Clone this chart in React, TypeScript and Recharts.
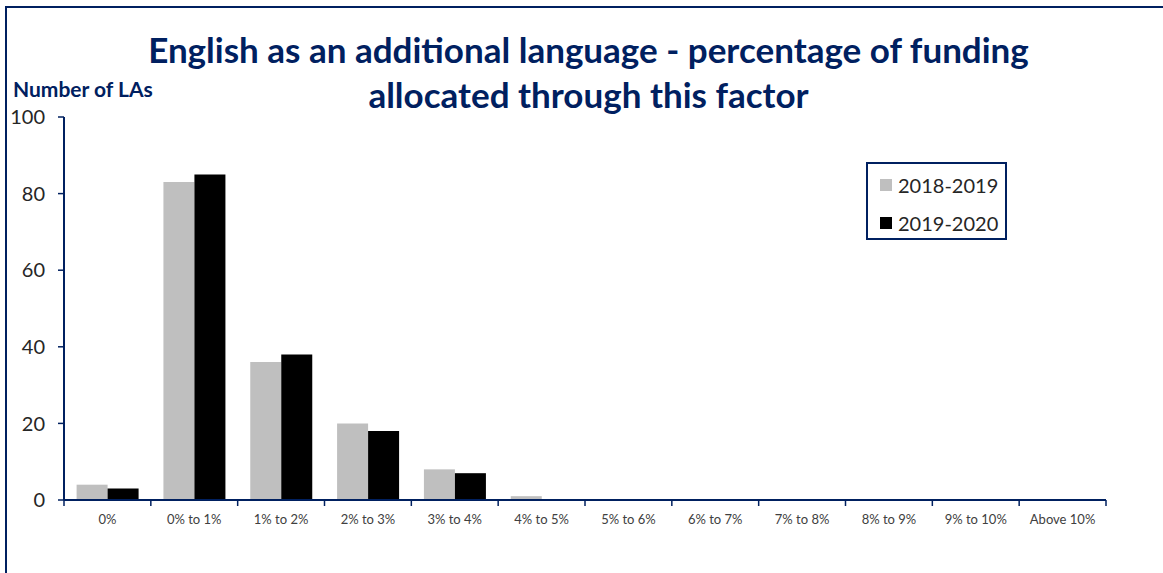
import React from 'react'
import { BarChart, Bar, XAxis, YAxis } from 'recharts'

const categories = [
  '0%', '0% to 1%', '1% to 2%', '2% to 3%', '3% to 4%', '4% to 5%',
  '5% to 6%', '6% to 7%', '7% to 8%', '8% to 9%', '9% to 10%', 'Above 10%',
]
const series2018 = [4, 83, 36, 20, 8, 1, 0, 0, 0, 0, 0, 0]
const series2019 = [3, 85, 38, 18, 7, 0, 0, 0, 0, 0, 0, 0]
const yTicks = [0, 20, 40, 60, 80, 100]

const NAVY = '#002060'
const FONT = 'Lato, "Open Sans", sans-serif'

const data = categories.map((c, i) => ({
  cat: c,
  y2018: series2018[i],
  y2019: series2019[i],
}))

// x-axis tick: label at the band centre, tick marks at the band edges (Excel style)
function CatTick(props: any) {
  const { x, y, payload, index } = props
  const half = payload.offset ?? 0
  const last = index === categories.length - 1
  return (
    <g>
      <line x1={x - half} x2={x - half} y1={y - 10} y2={y - 4} stroke={NAVY} strokeWidth={1.5} />
      {last && <line x1={x + half} x2={x + half} y1={y - 10} y2={y - 4} stroke={NAVY} strokeWidth={1.5} />}
      <text x={x} y={y + 14} textAnchor="middle" fill="#404040" fontSize={13} fontFamily={FONT}>
        {payload.value}
      </text>
    </g>
  )
}

export default function App() {
  return (
    <div style={{ position: 'absolute', left: 0, top: 0, width: 1163, height: 573, overflow: 'hidden', background: '#fff', fontFamily: FONT }}>
      {/* outer frame, runs off the right/bottom */}
      <div style={{ position: 'absolute', left: 5, top: 6, width: 1300, height: 700, border: `2px solid ${NAVY}` }} />

      <div style={{ position: 'absolute', left: 0, top: 27, width: 1177, textAlign: 'center', color: NAVY, fontWeight: 700, fontSize: 35, lineHeight: '45px' }}>
        English as an additional language - percentage of funding<br />allocated through this factor
      </div>
      <div style={{ position: 'absolute', left: 13, top: 76, color: NAVY, fontWeight: 700, fontSize: 21 }}>
        Number of LAs
      </div>

      <div style={{ position: 'absolute', left: 0, top: 0 }}>
        <BarChart
          width={1163}
          height={573}
          data={data}
          margin={{ top: 117, right: 57, bottom: 43, left: 0 }}
          barGap={0}
          barCategoryGap="14.5%"
        >
          <XAxis
            dataKey="cat"
            height={30}
            interval={0}
            tickSize={6}
            tickMargin={4}
            axisLine={{ stroke: NAVY, strokeWidth: 2 }}
            tickLine={false}
            tick={<CatTick />}
          />
          <YAxis
            domain={[0, 100]}
            ticks={yTicks}
            width={64}
            tickSize={6}
            tickMargin={13}
            tickLine={{ stroke: NAVY, strokeWidth: 1.5 }}
            axisLine={{ stroke: NAVY, strokeWidth: 2 }}
            tick={{ fill: '#262626', fontSize: 20, fontFamily: FONT }}
          />
          <Bar dataKey="y2018" fill="#bfbfbf" isAnimationActive={false} />
          <Bar dataKey="y2019" fill="#000000" isAnimationActive={false} />
        </BarChart>
      </div>

      {/* legend */}
      <div style={{ position: 'absolute', left: 866, top: 162, width: 137, height: 74, border: `2px solid ${NAVY}`, background: '#fff' }}>
        {[['#bfbfbf', '2018-2019'], ['#000000', '2019-2020']].map(([c, t], i) => (
          <div key={t} style={{ position: 'absolute', left: 12, top: 9 + i * 38, display: 'flex', alignItems: 'center', height: 24 }}>
            <span style={{ display: 'inline-block', width: 12, height: 12, background: c, marginRight: 6 }} />
            <span style={{ fontSize: 20, color: '#262626' }}>{t}</span>
          </div>
        ))}
      </div>
    </div>
  )
}
